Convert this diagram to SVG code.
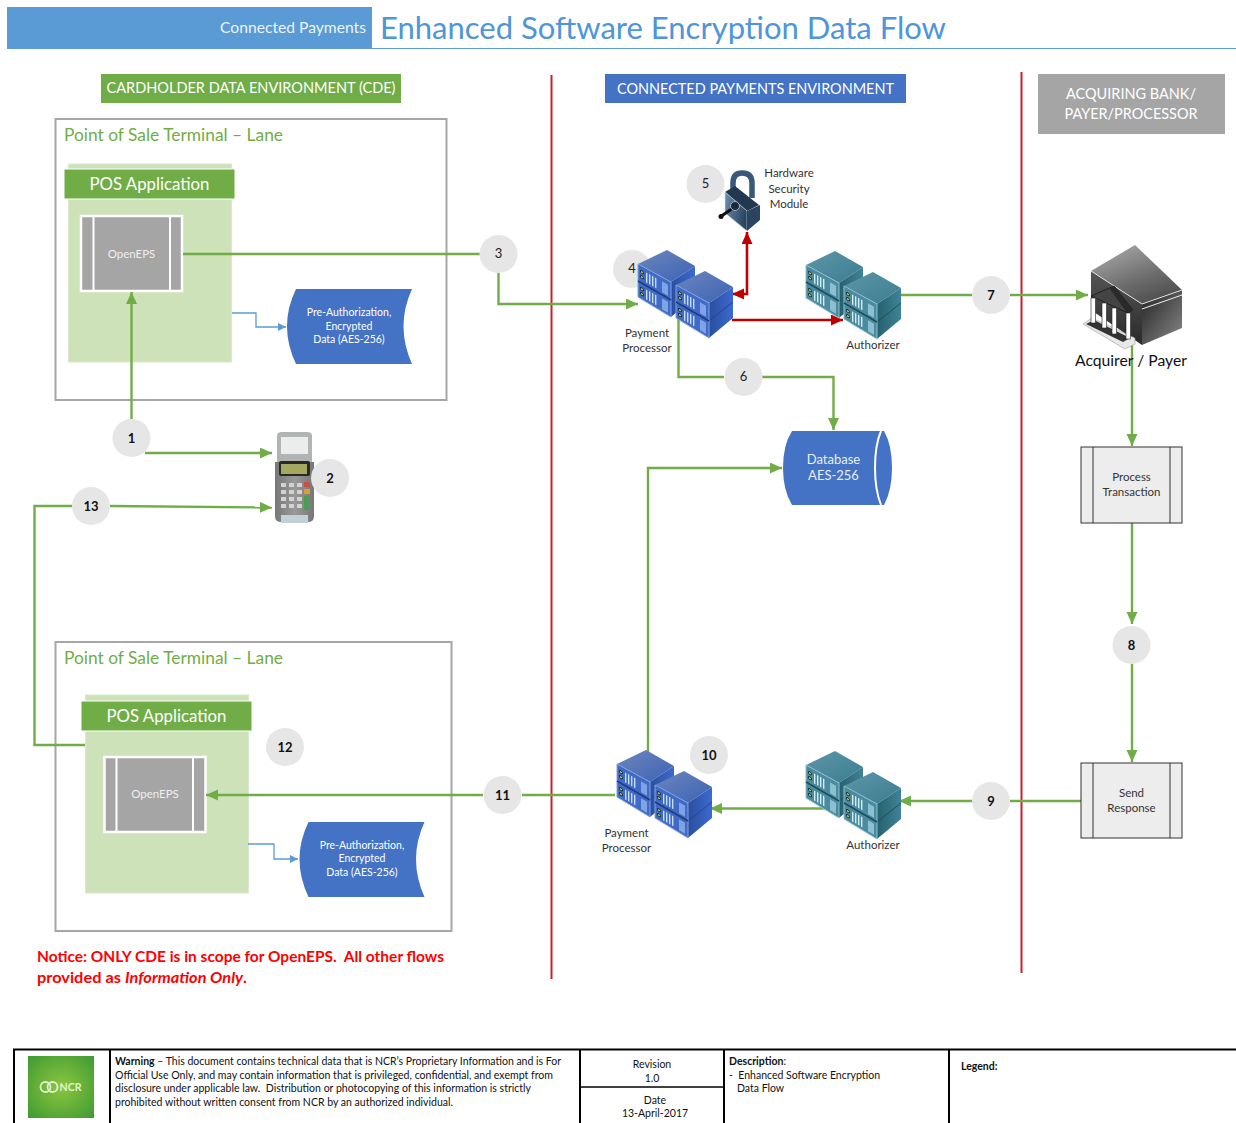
<svg xmlns="http://www.w3.org/2000/svg" xmlns:xlink="http://www.w3.org/1999/xlink" width="1236" height="1123" viewBox="0 0 1236 1123">
<style>
text{font-family:"Lato","Liberation Sans",sans-serif;white-space:pre}
.c{text-anchor:middle}
.w{fill:#fff}
.d{fill:#333}
.f{fill:#111;font-size:10.5px}
.n{fill:#e7e6e6}
.nt{font-size:13px;fill:#111;text-anchor:middle;font-weight:700}
.nl{font-size:13px;fill:#222;text-anchor:middle}
.g{fill:none;stroke:#70ad47;stroke-width:2.4}
.r{fill:none;stroke:#c00000;stroke-width:2.6}
.b{fill:none;stroke:#5b9bd5;stroke-width:1.3}
.doc{fill:#4472c4}
.box{fill:#fff;stroke:#a6a6a6;stroke-width:2}
.lbl{font-size:11.5px;fill:#333;text-anchor:middle}
.pos{fill:#cde2b8;stroke:#d8e8c8;stroke-width:1}
.hdr{fill:#70ad47;stroke:#fff;stroke-width:1}
.eps{fill:#a5a5a5;stroke:#fff;stroke-width:2.5}
.pt{fill:#70ad47;font-size:17px}
.proc{fill:#ededed;stroke:#333;stroke-width:1}
.ft{stroke:#000;stroke-width:2;fill:none}
</style>
<defs>
<marker id="ag" markerUnits="userSpaceOnUse" markerWidth="13" markerHeight="12" refX="12" refY="5.500" orient="auto"><path d="M0 0L12 5.500L0 11z" fill="#70ad47"/></marker>
<marker id="ar" markerUnits="userSpaceOnUse" markerWidth="13" markerHeight="12" refX="12" refY="5.500" orient="auto-start-reverse"><path d="M0 0L12 5.500L0 11z" fill="#c00000"/></marker>
<marker id="ab" markerUnits="userSpaceOnUse" markerWidth="9" markerHeight="9" refX="8" refY="4" orient="auto"><path d="M0 0L8 4L0 8z" fill="#5b9bd5"/></marker>
<linearGradient id="bt" x1="0" y1="0" x2="1" y2="1"><stop offset="0" stop-color="#6d87bd"/><stop offset="1" stop-color="#3c62b4"/></linearGradient>
<linearGradient id="br" x1="0" y1="0" x2="1" y2="0"><stop offset="0" stop-color="#2a4f9e"/><stop offset="1" stop-color="#3d6ad0"/></linearGradient>
<linearGradient id="tt" x1="0" y1="0" x2="1" y2="1"><stop offset="0" stop-color="#5e97a8"/><stop offset="1" stop-color="#3b7c90"/></linearGradient>
<linearGradient id="tr" x1="0" y1="0" x2="1" y2="0"><stop offset="0" stop-color="#27606f"/><stop offset="1" stop-color="#3f8397"/></linearGradient>
<linearGradient id="k1" x1="0.2" y1="0" x2="0.8" y2="1"><stop offset="0" stop-color="#a8a8a8"/><stop offset="0.6" stop-color="#6a6a6a"/><stop offset="1" stop-color="#4a4a4a"/></linearGradient>
<linearGradient id="k2" x1="0" y1="0" x2="1" y2="1"><stop offset="0" stop-color="#222"/><stop offset="1" stop-color="#8a8a8a"/></linearGradient>
<linearGradient id="k3" x1="0" y1="0" x2="0" y2="1"><stop offset="0" stop-color="#555"/><stop offset="1" stop-color="#2a2a2a"/></linearGradient>
<linearGradient id="lock" x1="0" y1="0" x2="1" y2="0.3"><stop offset="0" stop-color="#6f8fae"/><stop offset="1" stop-color="#2a4562"/></linearGradient>
<linearGradient id="term" x1="0" y1="0" x2="1" y2="0"><stop offset="0" stop-color="#777"/><stop offset="0.5" stop-color="#999"/><stop offset="1" stop-color="#777"/></linearGradient>
<radialGradient id="ncr" cx="0.5" cy="0.5" r="0.7"><stop offset="0" stop-color="#8cc63f"/><stop offset="1" stop-color="#3f9a32"/></radialGradient>
<g id="towerB">
<path d="M0 14L29 0L57 16L33 32z" fill="url(#bt)"/>
<path d="M33 32L57 16V47L33 67z" fill="url(#br)"/>
<path d="M33 50L57 31" stroke="#24468e" stroke-width="1" fill="none"/>
<path d="M0 14L33 32V67L0 47z" fill="#3f6ac6" stroke="#7fa4e6" stroke-width="1"/>
<path d="M0 31L33 50" stroke="#1f3d80" stroke-width="1.500"/>
<g fill="#c9dcf7" transform="translate(0 14) skewY(29)">
<rect x="8" y="4" width="1.400" height="10"/><rect x="11" y="4" width="1.400" height="10"/><rect x="14" y="4" width="1.400" height="10"/><rect x="17" y="4" width="1.400" height="10"/>
<rect x="8" y="21" width="1.400" height="10"/><rect x="11" y="21" width="1.400" height="10"/><rect x="14" y="21" width="1.400" height="10"/><rect x="17" y="21" width="1.400" height="10"/>
<rect x="24" y="4" width="6" height="11" fill="#7fa4e6"/><rect x="24" y="21" width="6" height="11" fill="#7fa4e6"/>
<circle cx="4" cy="6" r="1.400" fill="#b5d46a" stroke="#111" stroke-width=".8"/><circle cx="4" cy="11" r="1.400" fill="#b5d46a" stroke="#111" stroke-width=".8"/>
<circle cx="4" cy="23" r="1.400" fill="#b5d46a" stroke="#111" stroke-width=".8"/><circle cx="4" cy="28" r="1.400" fill="#b5d46a" stroke="#111" stroke-width=".8"/>
</g>
</g>
<g id="towerT">
<path d="M0 14L29 0L57 16L33 32z" fill="url(#tt)"/>
<path d="M33 32L57 16V47L33 67z" fill="url(#tr)"/>
<path d="M33 50L57 31" stroke="#1f5060" stroke-width="1" fill="none"/>
<path d="M0 14L33 32V67L0 47z" fill="#4a8ba0" stroke="#8cc0d0" stroke-width="1"/>
<path d="M0 31L33 50" stroke="#1d4d5c" stroke-width="1.500"/>
<g fill="#d5ecf2" transform="translate(0 14) skewY(29)">
<rect x="8" y="4" width="1.400" height="10"/><rect x="11" y="4" width="1.400" height="10"/><rect x="14" y="4" width="1.400" height="10"/><rect x="17" y="4" width="1.400" height="10"/>
<rect x="8" y="21" width="1.400" height="10"/><rect x="11" y="21" width="1.400" height="10"/><rect x="14" y="21" width="1.400" height="10"/><rect x="17" y="21" width="1.400" height="10"/>
<rect x="24" y="4" width="6" height="11" fill="#8cc0d0"/><rect x="24" y="21" width="6" height="11" fill="#8cc0d0"/>
<circle cx="4" cy="6" r="1.400" fill="#b5d46a" stroke="#111" stroke-width=".8"/><circle cx="4" cy="11" r="1.400" fill="#b5d46a" stroke="#111" stroke-width=".8"/>
<circle cx="4" cy="23" r="1.400" fill="#b5d46a" stroke="#111" stroke-width=".8"/><circle cx="4" cy="28" r="1.400" fill="#b5d46a" stroke="#111" stroke-width=".8"/>
</g>
</g>
<g id="stackB"><use href="#towerB"/><use href="#towerB" x="38" y="21"/></g>
<g id="stackT"><use href="#towerT"/><use href="#towerT" x="38" y="21"/></g>
<path id="docShape" d="M9 0H125Q108 37 125 75H9Q-9 37 9 0z"/>
</defs>

<g id="header">
<rect x="7" y="7" width="365" height="41" fill="#5b9bd5"/>
<path d="M7 48.500H1236" stroke="#5b9bd5" stroke-width="1.200"/>
<text x="366" y="33" font-size="16" fill="#fff" fill-opacity=".9" text-anchor="end" textLength="146" lengthAdjust="spacingAndGlyphs">Connected Payments</text>
<text x="380" y="38.500" font-size="31" fill="#4e95d9" textLength="566" lengthAdjust="spacingAndGlyphs">Enhanced Software Encryption Data Flow</text>
</g>

<g id="zone-labels">
<g id="zone-cde"><rect x="101" y="74" width="300" height="29" fill="#70ad47"/><text x="251" y="93" font-size="16" class="c w" textLength="289" lengthAdjust="spacingAndGlyphs">CARDHOLDER DATA ENVIRONMENT (CDE)</text></g>
<g id="zone-cp"><rect x="605" y="74" width="301" height="29" fill="#4472c4"/><text x="755.500" y="94" font-size="16" class="c w" textLength="277" lengthAdjust="spacingAndGlyphs">CONNECTED PAYMENTS ENVIRONMENT</text></g>
<g id="zone-acq"><rect x="1038" y="74" width="187" height="60" fill="#a5a5a5"/><text x="1131" y="99" font-size="16" class="c w" textLength="130" lengthAdjust="spacingAndGlyphs">ACQUIRING BANK/</text><text x="1131" y="119" font-size="16" class="c w" textLength="133" lengthAdjust="spacingAndGlyphs">PAYER/PROCESSOR</text></g>
<path d="M551.500 75V979" stroke="#c8202f" stroke-width="2"/>
<path d="M1021.500 72V973" stroke="#c8202f" stroke-width="2"/>
</g>

<g id="lane-1">
<rect class="box" x="55.500" y="119" width="391" height="281"/>
<text class="pt" x="64" y="141" textLength="219" lengthAdjust="spacingAndGlyphs">Point of Sale Terminal – Lane</text>
<rect class="pos" x="68.500" y="164" width="163" height="198"/>
<rect class="hdr" x="64" y="169" width="171" height="30"/>
<text x="149.500" y="190" font-size="17" class="c w" textLength="120" lengthAdjust="spacingAndGlyphs">POS Application</text>
</g>
<g id="openeps-1">
<rect class="eps" x="81" y="216" width="101" height="75"/><path d="M93.500 216V291M170 216V291" stroke="#fff" stroke-width="2"/>
<text x="131.500" y="258" font-size="11.500" class="c" fill="#eee">OpenEPS</text>
</g>
<g id="doc-1">
<use href="#docShape" x="287" y="289" class="doc"/>
<text x="349" y="316" class="c w" font-size="10.500">Pre-Authorization,</text><text x="349" y="330" class="c w" font-size="10.500">Encrypted</text><text x="349" y="343" class="c w" font-size="10.500">Data (AES-256)</text>
</g>

<g id="lane-2">
<rect class="box" x="55.500" y="642" width="396" height="289"/>
<text class="pt" x="64" y="664" textLength="219" lengthAdjust="spacingAndGlyphs">Point of Sale Terminal – Lane</text>
<rect class="pos" x="85.500" y="695" width="163" height="198"/>
<rect class="hdr" x="81" y="701" width="171" height="30"/>
<text x="166.500" y="722" font-size="17" class="c w" textLength="120" lengthAdjust="spacingAndGlyphs">POS Application</text>
</g>
<g id="openeps-2">
<rect class="eps" x="104.500" y="757" width="101" height="75"/><path d="M116.500 757V832M193 757V832" stroke="#fff" stroke-width="2"/>
<text x="155" y="798" font-size="11.500" class="c" fill="#eee">OpenEPS</text>
</g>
<g id="doc-2">
<use href="#docShape" x="299.500" y="822" class="doc"/>
<text x="362" y="849" class="c w" font-size="10.500">Pre-Authorization,</text><text x="362" y="862" class="c w" font-size="10.500">Encrypted</text><text x="362" y="876" class="c w" font-size="10.500">Data (AES-256)</text>
</g>

<g id="n4"><circle class="n" cx="632" cy="269" r="19"/><text class="nl" x="632" y="273">4</text></g>

<g id="connectors">
<path class="g" d="M183 254H480"/>
<path class="g" d="M498.500 273V304H638" marker-end="url(#ag)"/>
<path class="g" d="M131.500 419V292" marker-end="url(#ag)"/>
<path class="g" d="M145 453H272" marker-end="url(#ag)"/>
<path class="g" d="M110 506L272 507.500" marker-end="url(#ag)"/>
<path class="g" d="M72 506H34.500V745H85"/>
<path class="g" d="M678.500 315V377H724"/>
<path class="g" d="M762 377H833.500V430" marker-end="url(#ag)"/>
<path class="g" d="M648 752V468H782" marker-end="url(#ag)"/>
<path class="g" d="M899 295H972"/>
<path class="g" d="M1010 295H1088" marker-end="url(#ag)"/>
<path class="g" d="M1132 340V446" marker-end="url(#ag)"/>
<path class="g" d="M1132 523V624" marker-end="url(#ag)"/>
<path class="g" d="M1132 664V762" marker-end="url(#ag)"/>
<path class="g" d="M1081 801H1010"/>
<path class="g" d="M972 801H899" marker-end="url(#ag)"/>
<path class="g" d="M843 808.500H710" marker-end="url(#ag)"/>
<path class="g" d="M615 795H522"/>
<path class="g" d="M483 795H206" marker-end="url(#ag)"/>
<path class="r" d="M732 320H843" marker-end="url(#ar)"/>
<path class="r" d="M747 232V294H732" marker-start="url(#ar)" marker-end="url(#ar)"/>
<path class="b" d="M232 313H256V327H286" marker-end="url(#ab)"/>
<path class="b" d="M248 844H274V859H298" marker-end="url(#ab)"/>
</g>

<g id="payment-processor-1"><use href="#stackB" x="638" y="250"/>
<text class="lbl" x="647" y="337">Payment</text><text class="lbl" x="647" y="352">Processor</text></g>
<g id="authorizer-1"><use href="#stackT" x="806" y="251"/>
<text class="lbl" x="873" y="349">Authorizer</text></g>
<g id="payment-processor-2"><use href="#stackB" x="617" y="750"/>
<text class="lbl" x="626.500" y="837">Payment</text><text class="lbl" x="626.500" y="852">Processor</text></g>
<g id="authorizer-2"><use href="#stackT" x="806" y="751"/>
<text class="lbl" x="873" y="849">Authorizer</text></g>

<g id="hsm">
<path d="M733 198V183Q733 173 742 173Q752 173 752 183V198" fill="none" stroke="#39587a" stroke-width="5.500"/>
<path d="M725 192L735 186L759 205L747 211z" fill="#22384f"/>
<path d="M725 192L747 211V231L725 213z" fill="url(#lock)" stroke="#cfe0ef" stroke-width=".6"/>
<path d="M747 211L760 205V220L747 231z" fill="#2b4460"/>
<path d="M720 217L736 206" stroke="#111" stroke-width="3"/><circle cx="735" cy="206" r="4.500" fill="#1b2a3a" stroke="#9db5cc"/><circle cx="721" cy="216.500" r="2.500" fill="#111"/>
<text class="lbl" x="789" y="177">Hardware</text><text class="lbl" x="789" y="193">Security</text><text class="lbl" x="789" y="208">Module</text>
</g>

<g id="acquirer">
<path d="M1091 271L1142 304V345L1091 310z" fill="url(#k3)"/>
<path d="M1142 304L1182 290V328L1142 345z" fill="url(#k2)"/>
<path d="M1135 245L1182 290L1142 304L1091 271z" fill="url(#k1)"/>
<path d="M1091 271L1142 304L1182 290" stroke="#ddd" stroke-width="1" fill="none"/>
<path d="M1142 309L1182 295" stroke="#eee" stroke-width="1" fill="none"/>
<path d="M1083 324L1092 318L1135 338V344L1125 349z" fill="#e8e8e8" stroke="#888" stroke-width=".5"/>
<path d="M1086 324L1094 320L1130 338L1123 342z" fill="#333"/>
<path d="M1114 286L1091 296L1128 313L1133 310z" fill="#444" stroke="#111" stroke-width=".7"/>
<path d="M1114 286L1133 310L1127 313L1110 289z" fill="#2a2a2a"/>
<g fill="#fff" stroke="#222" stroke-width=".6"><rect x="1091" y="298" width="4.500" height="25"/><rect x="1102" y="303" width="4.500" height="25"/><rect x="1112" y="308" width="4.500" height="26"/><rect x="1126" y="313" width="4.500" height="26"/></g>
<text x="1131" y="366" font-size="15.500" fill="#111" class="c" textLength="112" lengthAdjust="spacingAndGlyphs">Acquirer / Payer</text>
</g>

<g id="terminal">
<path d="M277 436Q277 432 282 432H307Q312 432 312 436V462H277z" fill="#b0b4b4"/>
<rect x="281" y="437" width="27" height="17" fill="#ececec"/>
<path d="M275 462H314L314 516Q314 522 308 522H281Q275 522 275 516z" fill="url(#term)"/>
<rect x="279" y="461" width="31" height="15" rx="2" fill="#2a2a20"/><rect x="281" y="464" width="26" height="10" fill="#a5a860"/>
<g fill="#d3d3d3"><rect x="281" y="483" width="5" height="4"/><rect x="289" y="483" width="5" height="4"/><rect x="281" y="490" width="5" height="4"/><rect x="289" y="490" width="5" height="4"/><rect x="281" y="497" width="5" height="4"/><rect x="289" y="497" width="5" height="4"/><rect x="281" y="504" width="5" height="4"/><rect x="289" y="504" width="5" height="4"/><rect x="297" y="490" width="5" height="4"/><rect x="297" y="497" width="5" height="4"/><rect x="297" y="504" width="5" height="4"/><rect x="297" y="483" width="5" height="4"/></g>
<rect x="304" y="482" width="6" height="5" fill="#c8504a"/><rect x="304" y="489" width="6" height="5" fill="#dca030"/><rect x="304" y="496" width="5" height="14" fill="#4f9a55"/>
<rect x="281" y="515" width="27" height="8" fill="#c3d0d8"/>
</g>

<g id="n1"><circle class="n" cx="131.500" cy="438" r="19"/><text class="nt" x="131.500" y="443">1</text></g>
<g id="n2"><circle class="n" cx="330" cy="478" r="19"/><text class="nt" x="330" y="483">2</text></g>
<g id="n3"><circle class="n" cx="498.500" cy="254" r="19"/><text class="nl" x="498.500" y="258">3</text></g>
<g id="n5"><circle class="n" cx="705.500" cy="184" r="19"/><text class="nl" x="705.500" y="188">5</text></g>
<g id="n6"><circle class="n" cx="743.500" cy="377" r="19"/><text class="nl" x="743.500" y="381">6</text></g>
<g id="n7"><circle class="n" cx="991" cy="295" r="19"/><text class="nt" x="991" y="299.500">7</text></g>
<g id="n8"><circle class="n" cx="1131.500" cy="645" r="19"/><text class="nt" x="1131.500" y="649.500">8</text></g>
<g id="n9"><circle class="n" cx="991" cy="801" r="19"/><text class="nt" x="991" y="805.500">9</text></g>
<g id="n10"><circle class="n" cx="709" cy="755" r="19"/><text class="nt" x="709" y="759.500">10</text></g>
<g id="n11"><circle class="n" cx="502.500" cy="795" r="19"/><text class="nt" x="502.500" y="799.500">11</text></g>
<g id="n12"><circle class="n" cx="285" cy="747" r="19"/><text class="nt" x="285" y="751.500">12</text></g>
<g id="n13"><circle class="n" cx="91" cy="506" r="19"/><text class="nt" x="91" y="510.500">13</text></g>

<g id="database">
<path d="M792 431H884Q892 445 892 468Q892 490 884 505H792Q783 490 783 468Q783 445 792 431z" fill="#4472c4"/>
<path d="M881 431Q875 445 875 468Q875 490 881 505" fill="none" stroke="#fff" stroke-width="2"/>
<text x="833.500" y="464" font-size="13" class="c" fill="#e8eef8">Database</text><text x="833.500" y="480" font-size="13" class="c" fill="#e8eef8">AES-256</text>
</g>

<g id="process-transaction">
<rect class="proc" x="1081" y="447" width="101" height="76"/><path d="M1093 447V523M1170 447V523" stroke="#333" fill="none"/>
<text class="c d" x="1131.500" y="481" font-size="11.500">Process</text><text class="c d" x="1131.500" y="496" font-size="11.500">Transaction</text>
</g>
<g id="send-response">
<rect class="proc" x="1081" y="763" width="101" height="75"/><path d="M1093 763V838M1170 763V838" stroke="#333" fill="none"/>
<text class="c d" x="1131.500" y="797" font-size="11.500">Send</text><text class="c d" x="1131.500" y="812" font-size="11.500">Response</text>
</g>

<g id="notice" fill="#f00" font-size="15.500" font-weight="700">
<text x="37" y="962" textLength="407" lengthAdjust="spacingAndGlyphs">Notice: ONLY CDE is in scope for OpenEPS.  All other flows</text>
<text x="37" y="983" textLength="210" lengthAdjust="spacingAndGlyphs">provided as <tspan font-style="italic">Information Only</tspan>.</text>
</g>

<g id="footer">
<path class="ft" d="M14 1123V1049.500H1236M110 1049V1123M580 1049V1123M724 1049V1123M949 1049V1123"/>
<path d="M580 1087H724" stroke="#000" stroke-width="1.500"/>
<rect x="28" y="1056" width="66" height="62" fill="url(#ncr)"/>
<g fill="none" stroke="#e2f0d0" stroke-width="1.800"><circle cx="45.500" cy="1087" r="5"/><circle cx="52.500" cy="1087" r="5"/></g>
<text x="70.500" y="1091" font-size="10.500" font-weight="700" fill="#e2f0d0" class="c" textLength="22" lengthAdjust="spacingAndGlyphs">NCR</text>
<text class="f" x="115" y="1065" textLength="446" lengthAdjust="spacingAndGlyphs"><tspan font-weight="700">Warning</tspan> – This document contains technical data that is NCR’s Proprietary Information and is For</text>
<text class="f" x="115" y="1079" textLength="438" lengthAdjust="spacingAndGlyphs">Official Use Only, and may contain information that is privileged, confidential, and exempt from</text>
<text class="f" x="115" y="1092" textLength="416" lengthAdjust="spacingAndGlyphs">disclosure under applicable law.  Distribution or photocopying of this information is strictly</text>
<text class="f" x="115" y="1106" textLength="338" lengthAdjust="spacingAndGlyphs">prohibited without written consent from NCR by an authorized individual.</text>
<text class="f c" x="652" y="1068">Revision</text><text class="f c" x="652" y="1082">1.0</text>
<text class="f c" x="655" y="1104">Date</text><text class="f c" x="655" y="1117">13-April-2017</text>
<text class="f" x="729" y="1065"><tspan font-weight="700">Description</tspan>:</text>
<text class="f" x="729" y="1079">-  Enhanced Software Encryption</text>
<text class="f" x="737" y="1092">Data Flow</text>
<text class="f" x="961" y="1070" font-weight="700" font-size="11.500">Legend:</text>
</g>
</svg>
